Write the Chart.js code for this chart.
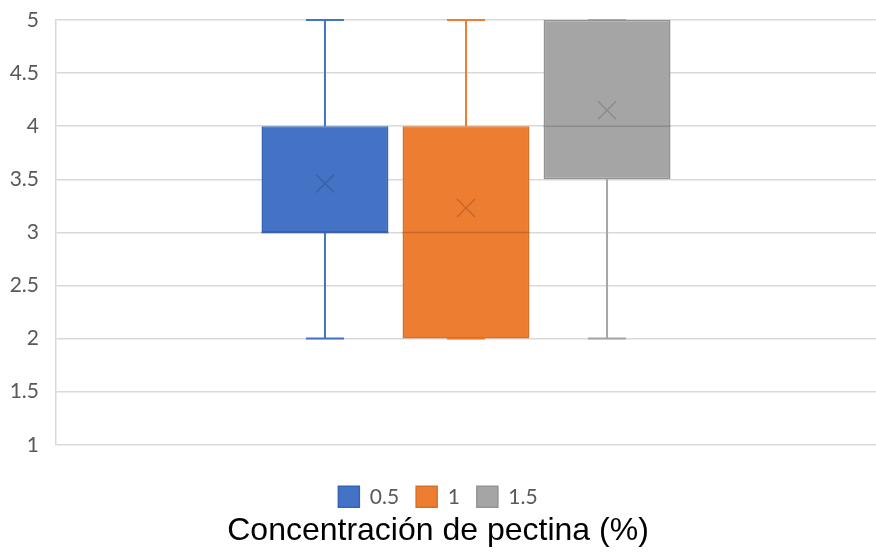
<!DOCTYPE html>
<html>
<head>
<meta charset="utf-8">
<script src="https://cdn.jsdelivr.net/npm/chart.js@4"></script>
<style>
html,body{margin:0;padding:0;background:#fff;}
#wrap{width:876px;height:556px;}
</style>
</head>
<body>
<div id="wrap"><canvas id="c" width="876" height="556"></canvas></div>
<script>
const categories = [''];
const seriesNames = ['0.5', '1', '1.5'];
const minValues = [2, 2, 2];
const q1Values = [3, 2, 3.5];
const medianValues = [3, 3, 4];
const q3Values = [4, 4, 5];
const maxValues = [5, 5, 5];
const meanValues = [3.46, 3.23, 4.15];
const yTicks = [1, 1.5, 2, 2.5, 3, 3.5, 4, 4.5, 5];
const yTickLabels = ['1', '1.5', '2', '2.5', '3', '3.5', '4', '4.5', '5'];
const axisTitle = 'Concentración de pectina (%)';

const fillColors = ['#4472C4', '#ED7D31', '#A5A5A5'];
const edgeColors = ['#3563B5', '#D96F26', '#939393'];
const innerColors = ['#3A62AA', '#C9672A', '#8C8C8C'];

const datasets = seriesNames.map((name, i) => ({
  label: name,
  data: [[q1Values[i], q3Values[i]]],
  backgroundColor: fillColors[i],
  borderColor: edgeColors[i],
  borderWidth: 1.5,
  borderSkipped: false,
  categoryPercentage: 0.516,
  barPercentage: 0.9
}));

const boxPlugin = {
  id: 'boxParts',
  beforeDatasetsDraw(chart) {
    const ctx = chart.ctx;
    const y = chart.scales.y;
    chart.data.datasets.forEach((ds, i) => {
      const bar = chart.getDatasetMeta(i).data[0];
      if (!bar) return;
      const x = bar.x;
      const capHalf = bar.width * 0.15;
      ctx.save();
      ctx.strokeStyle = fillColors[i];
      ctx.lineWidth = 2;
      ctx.beginPath();
      ctx.moveTo(x, y.getPixelForValue(q3Values[i]));
      ctx.lineTo(x, y.getPixelForValue(maxValues[i]));
      ctx.moveTo(x, y.getPixelForValue(q1Values[i]));
      ctx.lineTo(x, y.getPixelForValue(minValues[i]));
      ctx.moveTo(x - capHalf, y.getPixelForValue(maxValues[i]));
      ctx.lineTo(x + capHalf, y.getPixelForValue(maxValues[i]));
      ctx.moveTo(x - capHalf, y.getPixelForValue(minValues[i]));
      ctx.lineTo(x + capHalf, y.getPixelForValue(minValues[i]));
      ctx.stroke();
      ctx.restore();
    });
  },
  afterDatasetsDraw(chart) {
    const ctx = chart.ctx;
    const y = chart.scales.y;
    chart.data.datasets.forEach((ds, i) => {
      const bar = chart.getDatasetMeta(i).data[0];
      if (!bar) return;
      const x = bar.x;
      const half = bar.width / 2;
      ctx.save();
      ctx.strokeStyle = innerColors[i];
      ctx.lineWidth = 1.5;
      const my = y.getPixelForValue(medianValues[i]);
      ctx.beginPath();
      ctx.moveTo(x - half, my);
      ctx.lineTo(x + half, my);
      ctx.stroke();
      const ay = y.getPixelForValue(meanValues[i]);
      const s = 9;
      ctx.beginPath();
      ctx.moveTo(x - s, ay - s);
      ctx.lineTo(x + s, ay + s);
      ctx.moveTo(x + s, ay - s);
      ctx.lineTo(x - s, ay + s);
      ctx.stroke();
      ctx.restore();
    });
  }
};

new Chart(document.getElementById('c'), {
  type: 'bar',
  data: { labels: categories, datasets: datasets },
  options: {
    responsive: false,
    animation: false,
    devicePixelRatio: 1,
    layout: { padding: { top: 20, left: 0, right: 0, bottom: 0 } },
    scales: {
      x: {
        ticks: { display: false },
        grid: { display: false },
        border: { display: false },
        afterFit(axis) { axis.height = 24.5; axis.paddingLeft = 0; axis.paddingRight = 0; }
      },
      y: {
        min: 1,
        max: 5,
        afterBuildTicks(axis) { axis.ticks = yTicks.map(v => ({ value: v })); },
        afterFit(axis) { axis.width = 56; axis.paddingTop = 0; axis.paddingBottom = 0; },
        ticks: {
          color: '#595959',
          font: { family: 'Lato', size: 21 },
          padding: 17,
          callback: (v, i) => yTickLabels[i]
        },
        grid: { color: '#d9d9d9', lineWidth: 1.5, drawTicks: false },
        border: { display: true, color: '#d9d9d9', width: 1.5 }
      }
    },
    plugins: {
      legend: {
        position: 'bottom',
        labels: {
          color: '#595959',
          font: { family: 'Lato', size: 21 },
          boxWidth: 21,
          boxHeight: 21,
          padding: 17
        }
      },
      title: {
        display: true,
        position: 'bottom',
        text: axisTitle,
        color: '#000000',
        font: { family: 'Liberation Sans', size: 32, weight: 'normal' },
        padding: { top: -5.1, bottom: 5.4 }
      },
      tooltip: { enabled: false }
    }
  },
  plugins: [boxPlugin]
});
</script>
</body>
</html>
